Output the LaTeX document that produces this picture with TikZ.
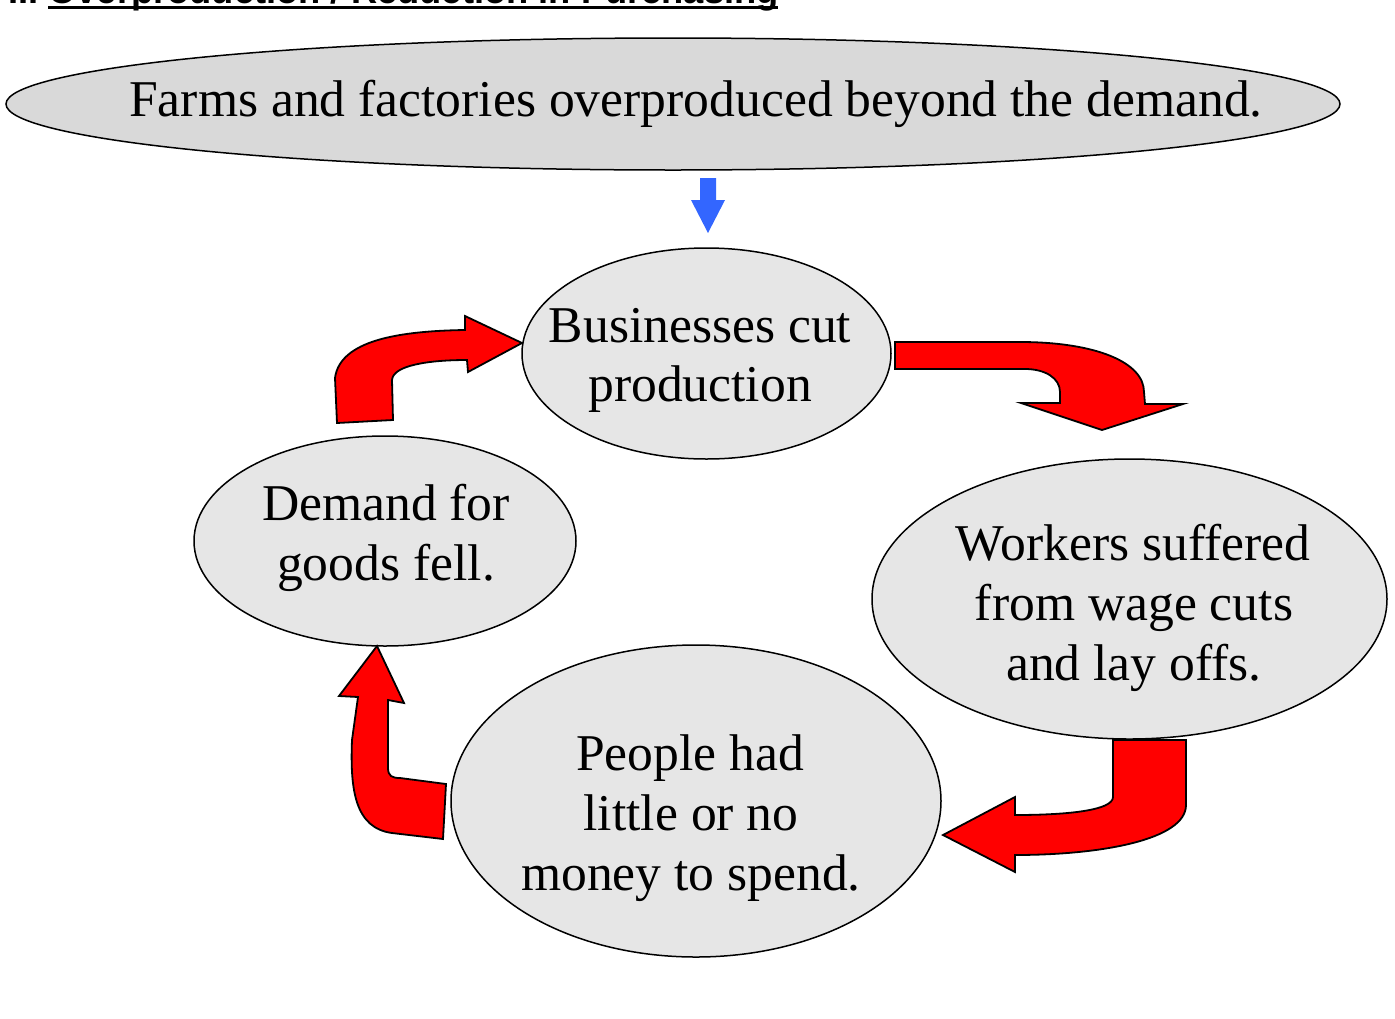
\documentclass[tikz,border=0pt]{standalone}
\usepackage{fontspec}
\setmainfont{Liberation Serif}
\newfontfamily\titlefont{Liberation Sans}
\usetikzlibrary{shapes.geometric}
\definecolor{topgray}{HTML}{D9D9D9}
\definecolor{ovalgray}{HTML}{E6E6E6}
\definecolor{arrowblue}{HTML}{3366FF}
\definecolor{arrowred}{HTML}{FF0000}
\begin{document}
\begin{tikzpicture}[x=1pt,y=-1pt,
  oval/.style={ellipse, draw=black, line width=1.5pt, fill=ovalgray, inner sep=0pt},
  txtline/.style={font=\fontsize{51.6}{60}\selectfont, anchor=base, inner sep=0pt},
  blockarrow/.style={fill=arrowred, draw=black, line width=1.8pt, line join=miter}]
\useasboundingbox (0,0) rectangle (1395,1018);
% title (cut off by the top edge, as in the reference)
\node[anchor=base west, inner sep=0pt, font=\titlefont\bfseries\fontsize{36.3}{40}\selectfont] (title) at (8,3) {II. Overproduction / Reduction in Purchasing};
\draw[line width=3pt] (48,7.5) -- (778,7.5);
% ovals
\node[oval, fill=topgray, minimum width=1334, minimum height=132] (top) at (673,104) {};
\node[oval, minimum width=369, minimum height=211] (bus) at (706.5,353.5) {};
\node[oval, minimum width=382, minimum height=210] (dem) at (385,541) {};
\node[oval, minimum width=515, minimum height=280] (wor) at (1129.5,599) {};
\node[oval, minimum width=490, minimum height=312] (peo) at (696,801) {};
% texts
\node[txtline] (t1) at (696,116) {Farms and factories overproduced beyond the demand.};
\node[txtline] (b1) at (700,342) {Businesses cut};
\node[txtline] (b2) at (700,401) {production};
\node[txtline] (d1) at (386,520) {Demand for};
\node[txtline] (d2) at (386,580) {goods fell.};
\node[txtline] (w1) at (1133,560) {Workers suffered};
\node[txtline] (w2) at (1134,620) {from wage cuts};
\node[txtline] (w3) at (1134,680) {and lay offs.};
\node[txtline] (p1) at (690,770) {People had};
\node[txtline] (p2) at (691,830) {little or no};
\node[txtline] (p3) at (691,890) {money to spend.};
% blue arrow
\fill[arrowblue] (700,178) -- (716,178) -- (716,200) -- (725,200) -- (708,233) -- (691,200) -- (700,200) -- cycle;
% red block arrows
\draw[blockarrow] (337,423) -- (335,378) .. controls (340,340) and (400,331) .. (465,330) -- (465,316) -- (522,343) -- (468,372) -- (467,360) .. controls (430,360) and (393,365) .. (392,380) -- (393,420) -- cycle;
\draw[blockarrow] (895,342) -- (1020,342) .. controls (1095,342) and (1144,362) .. (1144,392) -- (1145,404) -- (1183,404) -- (1102,430) -- (1021,403) -- (1060,403) -- (1060,392) .. controls (1060,378) and (1045,369) .. (1025,369) -- (895,369) -- cycle;
\draw[blockarrow] (1113,740) -- (1186,740) -- (1186,805) .. controls (1186,840) and (1100,855) .. (1015,855) -- (1015,872) -- (943,835) -- (1015,797) -- (1015,815) .. controls (1070,815) and (1113,810) .. (1113,797) -- cycle;
\draw[blockarrow] (377,646) -- (404,703) -- (388,700) -- (388,768) .. controls (388,776) and (392,778) .. (400,778) -- (446,784) -- (443,839) -- (392,833) .. controls (355,828) and (350,790) .. (352,740) -- (358,697) -- (339,696) -- cycle;
\end{tikzpicture}
\end{document}
